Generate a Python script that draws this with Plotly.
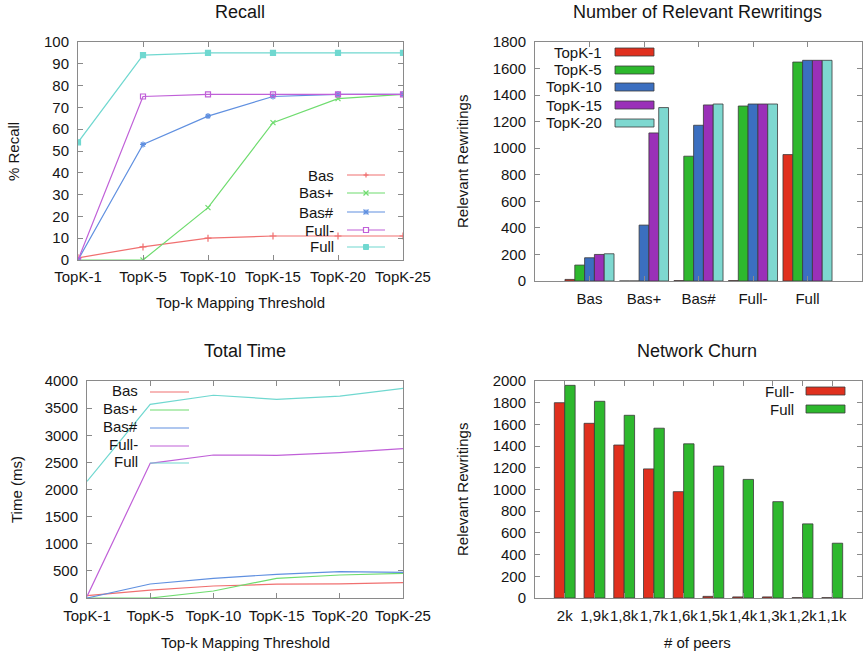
import plotly.graph_objects as go

W, H = 864, 654

# ---------------- data ----------------
topk_labels = ["TopK-1", "TopK-5", "TopK-10", "TopK-15", "TopK-20", "TopK-25"]
methods = ["Bas", "Bas+", "Bas#", "Full-", "Full"]

recall_bas = [1, 6, 10, 11, 11, 11]
recall_basplus = [0, 0, 24, 63, 74, 76]
recall_bassharp = [0, 53, 66, 75, 76, 76]
recall_fullminus = [0, 75, 76, 76, 76, 76]
recall_full = [54, 94, 95, 95, 95, 95]

rew_series = ["TopK-1", "TopK-5", "TopK-10", "TopK-15", "TopK-20"]
rew_topk1 = [12, 0, 3, 3, 952]
rew_topk5 = [120, 0, 940, 1318, 1649]
rew_topk10 = [175, 421, 1173, 1333, 1662]
rew_topk15 = [200, 1115, 1326, 1333, 1662]
rew_topk20 = [205, 1306, 1333, 1333, 1662]

time_bas = [43, 147, 221, 254, 260, 283]
time_basplus = [0, 0, 129, 363, 424, 455]
time_bassharp = [0, 258, 363, 437, 485, 472]
time_fullminus = [30, 2483, 2636, 2630, 2680, 2752]
time_full = [2150, 3570, 3737, 3663, 3720, 3865]

peers = ["2k", "1,9k", "1,8k", "1,7k", "1,6k", "1,5k", "1,4k", "1,3k", "1,2k", "1,1k"]
churn_fullminus = [1800, 1610, 1410, 1190, 980, 15, 10, 10, 3, 3]
churn_full = [1960, 1813, 1684, 1565, 1421, 1216, 1093, 888, 683, 505]

# ---------------- styles ----------------
FONT = "Liberation Sans, Arial, sans-serif"
TXT = "#151515"
AX = "#8a8a8a"
line_cols = ["#f07070", "#6fdc6f", "#6090e0", "#c060d8", "#70d8d0"]
bar_cols = ["#e0301e", "#2db82d", "#3b6fc0", "#9a30b8", "#7ed8d0"]
rec_symbols = ["cross-thin", "x-thin", "asterisk", "square-open", "square"]


def px(x):
    return x / W


def py(y):
    return 1 - y / H


fig = go.Figure()

xi = list(range(len(topk_labels)))

# Recall lines
for name, vals, col, sym in zip(methods,
                                [recall_bas, recall_basplus, recall_bassharp, recall_fullminus, recall_full],
                                line_cols, rec_symbols):
    fig.add_trace(go.Scatter(x=xi, y=vals, mode="lines+markers", name=name,
                             line=dict(color=col, width=1.2),
                             marker=dict(symbol=sym, size=5, color=col,
                                         line=dict(color=col, width=1.2)),
                             xaxis="x", yaxis="y", showlegend=False))

# Relevant rewritings bars
rew_vals = [rew_topk1, rew_topk5, rew_topk10, rew_topk15, rew_topk20]
gi = list(range(len(methods)))
bw = 0.18
for k, (name, vals) in enumerate(zip(rew_series, rew_vals)):
    fig.add_trace(go.Bar(x=gi, y=vals, name=name, width=bw, offset=-0.45 + k * bw,
                         marker=dict(color=bar_cols[k], line=dict(color="#3a3a3a", width=0.8)),
                         xaxis="x2", yaxis="y2", showlegend=False))

# Total time lines
for name, vals, col in zip(methods,
                           [time_bas, time_basplus, time_bassharp, time_fullminus, time_full],
                           line_cols):
    fig.add_trace(go.Scatter(x=xi, y=vals, mode="lines", name=name,
                             line=dict(color=col, width=1.2),
                             xaxis="x3", yaxis="y3", showlegend=False))

# Network churn bars
pi = list(range(len(peers)))
cw = 0.35
for k, (name, vals, col) in enumerate(zip(["Full-", "Full"], [churn_fullminus, churn_full],
                                          [bar_cols[0], bar_cols[1]])):
    fig.add_trace(go.Bar(x=pi, y=vals, name=name, width=cw, offset=-cw + k * cw,
                         marker=dict(color=col, line=dict(color="#3a3a3a", width=0.8)),
                         xaxis="x4", yaxis="y4", showlegend=False))

# ---------------- axes ----------------
common = dict(showline=True, linecolor=AX, linewidth=1, mirror="ticks", ticks="inside",
              ticklen=5, tickcolor=AX, showgrid=False, zeroline=False, automargin=False,
              tickangle=0, tickfont=dict(family=FONT, size=15, color=TXT))

fig.update_layout(
    width=W, height=H, margin=dict(l=0, r=0, t=0, b=0, autoexpand=False),
    paper_bgcolor="white", plot_bgcolor="white", barmode="overlay",
    xaxis=dict(domain=[px(78), px(403)], range=[0, 5], anchor="y",
               tickvals=xi, ticktext=topk_labels, ticklabelstandoff=3, **common),
    yaxis=dict(domain=[py(260), py(42)], range=[0, 100], dtick=10, anchor="x",
               ticklabelstandoff=5, **common),
    xaxis2=dict(domain=[px(535), px(862)], range=[-1, 5], anchor="y2",
                tickvals=gi, ticktext=methods, ticklabelstandoff=4, **common),
    yaxis2=dict(domain=[py(281), py(42)], range=[0, 1800], dtick=200, anchor="x2",
                ticklabelstandoff=5, **common),
    xaxis3=dict(domain=[px(87), px(403)], range=[0, 5], anchor="y3",
                tickvals=xi, ticktext=topk_labels, ticklabelstandoff=4, **common),
    yaxis3=dict(domain=[py(598), py(381)], range=[0, 4000], dtick=500, anchor="x3",
                ticklabelstandoff=5, **common),
    xaxis4=dict(domain=[px(535), px(862)], range=[-1, 10], anchor="y4",
                tickvals=pi, ticktext=peers, ticklabelstandoff=4, **common),
    yaxis4=dict(domain=[py(598), py(381)], range=[0, 2000], dtick=200, anchor="x4",
                ticklabelstandoff=5, **common),
)

# ---------------- titles ----------------
ann = []


def text(x, y, s, size=14, angle=0, xanchor="center"):
    ann.append(dict(x=px(x), y=py(y), xref="paper", yref="paper", text=s, showarrow=False,
                    textangle=angle, xanchor=xanchor, yanchor="middle",
                    font=dict(family=FONT, size=size, color=TXT)))


text(240, 12, "Recall", 18)
text(697, 12, "Number of Relevant Rewritings", 18)
text(245, 351, "Total Time", 18)
text(697, 351, "Network Churn", 18)

text(240, 302, "Top-k Mapping Threshold", 15)
text(14, 152, "% Recall", 15, angle=-90)
text(462, 162, "Relevant Rewritings", 15, angle=-90)
text(245, 642, "Top-k Mapping Threshold", 15)
text(16, 490, "Time (ms)", 15, angle=-90)
text(697, 642, "# of peers", 15)
text(462, 490, "Relevant Rewritings", 15, angle=-90)

shapes = []

# Recall legend (text then line sample with marker)
rec_leg_y = [175, 193, 212, 230, 247]
for name, col, sym, yy in zip(methods, line_cols, rec_symbols, rec_leg_y):
    text(336, yy, name, 15, xanchor="right")
    shapes.append(dict(type="line", xref="paper", yref="paper", x0=px(347), x1=px(385),
                       y0=py(yy), y1=py(yy), line=dict(color=col, width=1.2)))
    cx, cy, r = 366, yy, 2.5
    segs = []
    if sym in ("cross-thin", "asterisk"):
        segs += [(cx - r, cy, cx + r, cy), (cx, cy - r, cx, cy + r)]
    if sym in ("x-thin", "asterisk"):
        segs += [(cx - r, cy - r, cx + r, cy + r), (cx - r, cy + r, cx + r, cy - r)]
    for (a, b, c, d) in segs:
        shapes.append(dict(type="line", xref="paper", yref="paper", x0=px(a), y0=py(b),
                           x1=px(c), y1=py(d), line=dict(color=col, width=1.2)))
    if sym == "square-open":
        shapes.append(dict(type="rect", xref="paper", yref="paper", x0=px(cx - r), x1=px(cx + r),
                           y0=py(cy - r), y1=py(cy + r), line=dict(color=col, width=1.2),
                           fillcolor="white"))
    if sym == "square":
        shapes.append(dict(type="rect", xref="paper", yref="paper", x0=px(cx - r), x1=px(cx + r),
                           y0=py(cy - r), y1=py(cy + r), line=dict(color=col, width=1),
                           fillcolor=col))

# Rewritings legend
rew_leg_y = [52, 70, 87, 105, 123]
for k, (name, yy) in enumerate(zip(rew_series, rew_leg_y)):
    text(604, yy, name, 15, xanchor="right")
    shapes.append(dict(type="rect", xref="paper", yref="paper", x0=px(615), x1=px(654),
                       y0=py(yy - 4), y1=py(yy + 4), fillcolor=bar_cols[k],
                       line=dict(color="#3a3a3a", width=0.8)))

# Total time legend
time_leg_y = [390, 408, 426, 444, 461]
for name, col, yy in zip(methods, line_cols, time_leg_y):
    text(140, yy, name, 15, xanchor="right")
    shapes.append(dict(type="line", xref="paper", yref="paper", x0=px(150), x1=px(189),
                       y0=py(yy + 2), y1=py(yy + 2), line=dict(color=col, width=1.2)))

# Churn legend
churn_leg_y = [391, 409]
for k, (name, yy) in enumerate(zip(["Full-", "Full"], churn_leg_y)):
    text(796, yy, name, 15, xanchor="right")
    shapes.append(dict(type="rect", xref="paper", yref="paper", x0=px(806), x1=px(845),
                       y0=py(yy - 4), y1=py(yy + 4), fillcolor=bar_cols[k],
                       line=dict(color="#3a3a3a", width=0.8)))

fig.update_layout(annotations=ann, shapes=shapes)

fig.write_html("out.html")
